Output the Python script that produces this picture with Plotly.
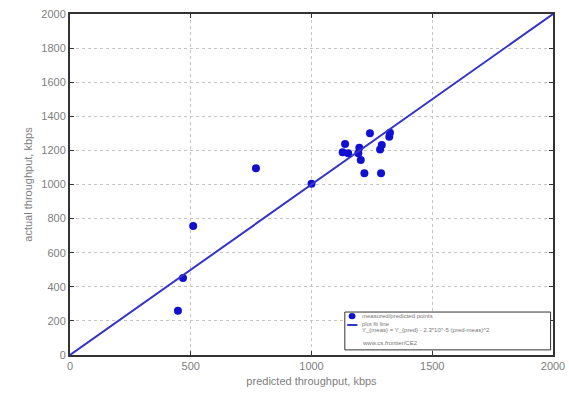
import plotly.graph_objects as go

predicted = [447, 468, 510, 770, 1000, 1242, 1325, 1322, 1139, 1129, 1152, 1198, 1194, 1291, 1284, 1204, 1219, 1288]
actual = [260, 452, 757, 1095, 1005, 1300, 1304, 1280, 1238, 1189, 1183, 1216, 1183, 1232, 1206, 1144, 1066, 1066]
fit_x = [0, 2000]
fit_y = [0, 2000]
x_ticks = [0, 500, 1000, 1500, 2000]
y_ticks = [0, 200, 400, 600, 800, 1000, 1200, 1400, 1600, 1800, 2000]

legend_labels = ["measured/predicted points",
                 "plot fit line",
                 "Y_{meas} = Y_{pred} - 2.3*10^-5 (pred-meas)^2",
                 "www.cs.frontier/CE2"]

MARK_COLOR = "#1010d0"
LINE_COLOR = "#3434c8"

fig = go.Figure()
fig.add_trace(go.Scatter(x=predicted, y=actual, mode="markers",
                         marker=dict(symbol="circle", size=8, color=MARK_COLOR),
                         name=legend_labels[0], showlegend=False))
fig.add_trace(go.Scatter(x=fit_x, y=fit_y, mode="lines",
                         line=dict(color=LINE_COLOR, width=2),
                         name=legend_labels[1], showlegend=False))

axis_common = dict(showline=True, linecolor="#333", linewidth=2, mirror="ticks",
                   ticks="inside", ticklen=4, tickcolor="#333",
                   showgrid=True, gridcolor="#c4c4c4", griddash="dot", gridwidth=1,
                   zeroline=False, tickfont=dict(family="Liberation Sans", size=11, color="#808080"))

# manual legend box (paper coords)
L, R, T, B = 0.569, 0.995, 0.126, 0.015
shapes = [
    dict(type="rect", xref="paper", yref="paper", x0=L, x1=R, y0=B, y1=T,
         line=dict(color="#333", width=1), fillcolor="white", layer="above"),
    dict(type="circle", xref="paper", yref="paper", x0=L + 0.008, x1=L + 0.022,
         y0=0.105, y1=0.123, fillcolor=MARK_COLOR, line=dict(width=0), layer="above"),
    dict(type="line", xref="paper", yref="paper", x0=L + 0.005, x1=L + 0.026,
         y0=0.088, y1=0.088, line=dict(color=LINE_COLOR, width=2), layer="above"),
]
ann_y = [0.114, 0.092, 0.072, 0.035]
annotations = [
    dict(xref="paper", yref="paper", x=L + 0.032, y=yy, text=t, showarrow=False,
         xanchor="left", yanchor="middle",
         font=dict(family="Liberation Sans", size=6, color="#777"))
    for yy, t in zip(ann_y, legend_labels)
]

fig.update_layout(
    width=569, height=393,
    margin=dict(l=70, r=16, t=14, b=38, autoexpand=False),
    paper_bgcolor="white", plot_bgcolor="white",
    showlegend=False,
    shapes=shapes, annotations=annotations,
    xaxis=dict(range=[0, 2000], tickvals=x_ticks,
               title=dict(text="predicted throughput, kbps", standoff=6,
                          font=dict(family="Liberation Sans", size=11, color="#808080")),
               **axis_common),
    yaxis=dict(range=[0, 2000], tickvals=y_ticks,
               title=dict(text="actual throughput, kbps", standoff=6,
                          font=dict(family="Liberation Sans", size=11, color="#808080")),
               **axis_common),
)

fig.write_html("out.html", config={"displayModeBar": False},
               post_script="document.body.style.margin='0px';document.body.style.overflow='hidden';")
